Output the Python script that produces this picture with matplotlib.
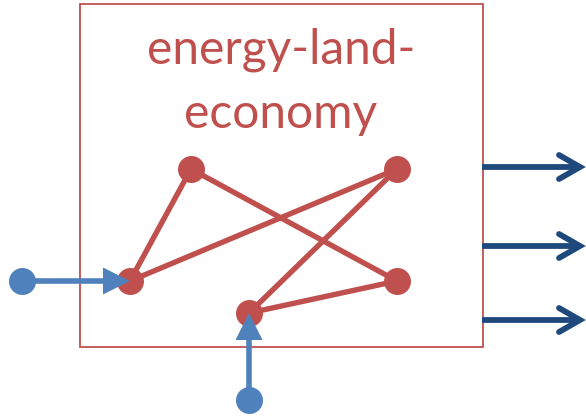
import matplotlib
matplotlib.use("Agg")
import matplotlib.pyplot as plt
from matplotlib.patches import Rectangle, Polygon

RED = "#C0504D"
BLUE = "#4F81BD"
DARK = "#1F497D"

# diagram content
title_lines = ["energy-land-", "economy"]
node_x = [191, 397, 130, 397, 249]
node_y = [169, 169, 281, 281, 313]
edges = [(0, 2), (2, 1), (0, 3), (1, 4), (4, 3)]
inputs_src = [(22, 281), (249, 400)]
inputs_dst = [2, 4]
output_y = [167, 246, 320]

W, H = 586, 418
fig = plt.figure(figsize=(W / 100, H / 100), dpi=100)
ax = fig.add_axes([0, 0, 1, 1])
ax.set_xlim(0, W)
ax.set_ylim(H, 0)
ax.axis("off")

px = 72 / 100  # points per pixel

# box
box = (80, 4, 483, 347)
ax.add_patch(Rectangle((box[0], box[1]), box[2] - box[0], box[3] - box[1],
                       fill=False, edgecolor=RED, lw=1.8 * px, zorder=1))

# title
ax.text(281, 63, title_lines[0], color=RED, fontsize=34.5, family="Lato",
        ha="center", va="baseline", zorder=2)
ax.text(281, 128, title_lines[1], color=RED, fontsize=34.5, family="Lato",
        ha="center", va="baseline", zorder=2)

# edges
for a, b in edges:
    ax.plot([node_x[a], node_x[b]], [node_y[a], node_y[b]], color=RED,
            lw=5.4 * px, solid_capstyle="round", zorder=3)
# nodes
ax.plot(node_x, node_y, "o", color=RED, ms=27 * px, mec="none", zorder=4)

# inputs
head_len, head_half = 27, 13.5
for (sx, sy), d in zip(inputs_src, inputs_dst):
    tx, ty = node_x[d], node_y[d]
    dx, dy = tx - sx, ty - sy
    L = (dx ** 2 + dy ** 2) ** 0.5
    ux, uy = dx / L, dy / L
    bx, by = tx - ux * head_len, ty - uy * head_len
    ax.plot([sx, bx + ux * 2], [sy, by + uy * 2], color=BLUE, lw=5.6 * px, zorder=5)
    ax.add_patch(Polygon([(tx, ty), (bx - uy * head_half, by + ux * head_half),
                          (bx + uy * head_half, by - ux * head_half)],
                         closed=True, color=BLUE, zorder=6, lw=0))
    ax.plot([sx], [sy], "o", color=BLUE, ms=27 * px, mec="none", zorder=6)

# outputs
x0, x1 = 482, 580
for y in output_y:
    ax.plot([x0, x1 - 3], [y, y], color=DARK, lw=5.8 * px, solid_capstyle="butt", zorder=5)
    ax.plot([x1 - 21, x1, x1 - 21], [y - 12, y, y + 12], color=DARK, lw=5.8 * px,
            solid_capstyle="round", solid_joinstyle="miter", zorder=5)

fig.savefig("out.png", dpi=100)
